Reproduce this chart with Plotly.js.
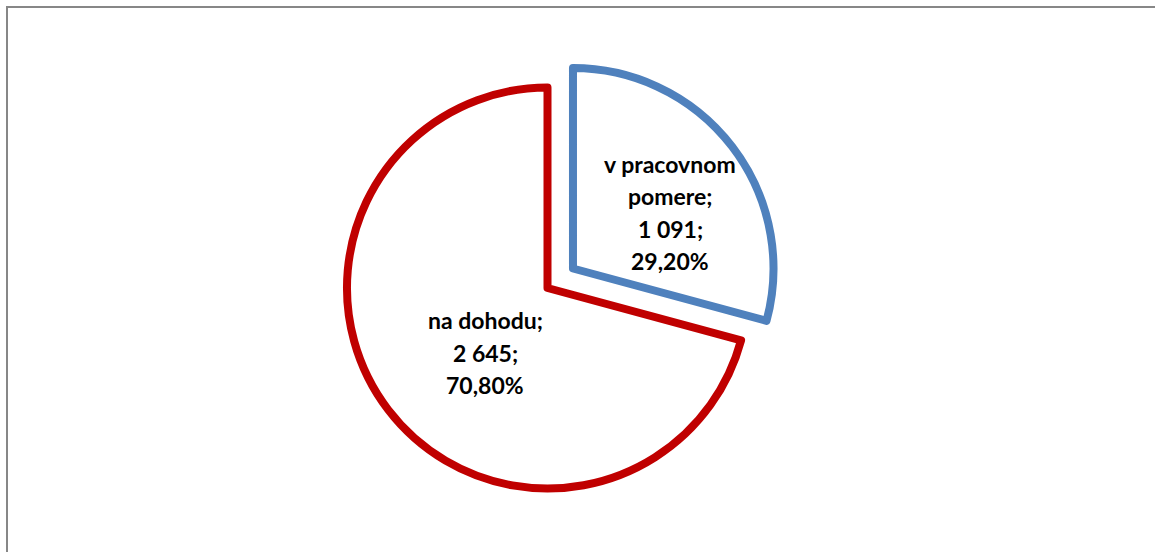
<!DOCTYPE html>
<html>
<head>
<meta charset="utf-8">
<script src="https://cdn.plot.ly/plotly-3.0.1.min.js"></script>
<style>html,body{margin:0;padding:0;background:#fff;}#chart{width:1155px;height:552px;}</style>
</head>
<body>
<div id="chart"></div>
<script>
const labels = ["v pracovnom<br>pomere", "na dohodu"];
const values = [1091, 2645];
const colors = ["#4F81BD", "#C00000"];
const pulls = [0.16, 0];

// label block anchor (px of first line centre) - layout only
const labelPos = [[670, 164], [485, 320]];
const lineStep = 32.5;

const W = 1155, H = 552;
const total = values.reduce((a, b) => a + b, 0);
function fmtInt(v) { return String(v).replace(/\B(?=(\d{3})+(?!\d))/g, " "); }
function fmtPct(v) { return (v / total * 100).toFixed(2).replace(".", ",") + "%"; }

const trace = {
  type: "pie",
  labels: labels,
  values: values,
  sort: false,
  direction: "clockwise",
  rotation: 0,
  pull: pulls,
  marker: { colors: ["#ffffff", "#ffffff"], line: { color: colors, width: 8 } },
  textposition: "none",
  hoverinfo: "label+value+percent",
  showlegend: false,
  domain: { x: [314.9 / W, 780.1 / W], y: [1 - 520.6 / H, 1 - 55.4 / H] }
};

const annotations = [];
labels.forEach((lab, i) => {
  const parts = lab.split("<br>");
  parts[parts.length - 1] += ";";
  const lines = parts.concat([fmtInt(values[i]) + ";", fmtPct(values[i])]);
  lines.forEach((ln, k) => {
    annotations.push({
      xref: "paper", yref: "paper",
      x: labelPos[i][0] / W, y: 1 - (labelPos[i][1] + k * lineStep) / H,
      xanchor: "center", yanchor: "middle",
      text: ln, showarrow: false,
      font: { family: "Lato, 'Open Sans', sans-serif", size: 23, color: "#000", weight: "bold" }
    });
  });
});

const layout = {
  width: W, height: H,
  margin: { l: 0, r: 0, t: 0, b: 0 },
  paper_bgcolor: "#fff",
  showlegend: false,
  annotations: annotations,
  shapes: [{
    type: "rect", xref: "paper", yref: "paper",
    x0: 7 / W, x1: 1.02, y0: -0.02, y1: 1 - 7 / H,
    line: { color: "#878787", width: 2 }
  }]
};

Plotly.newPlot("chart", [trace], layout, { displayModeBar: false, staticPlot: true });
</script>
</body>
</html>
